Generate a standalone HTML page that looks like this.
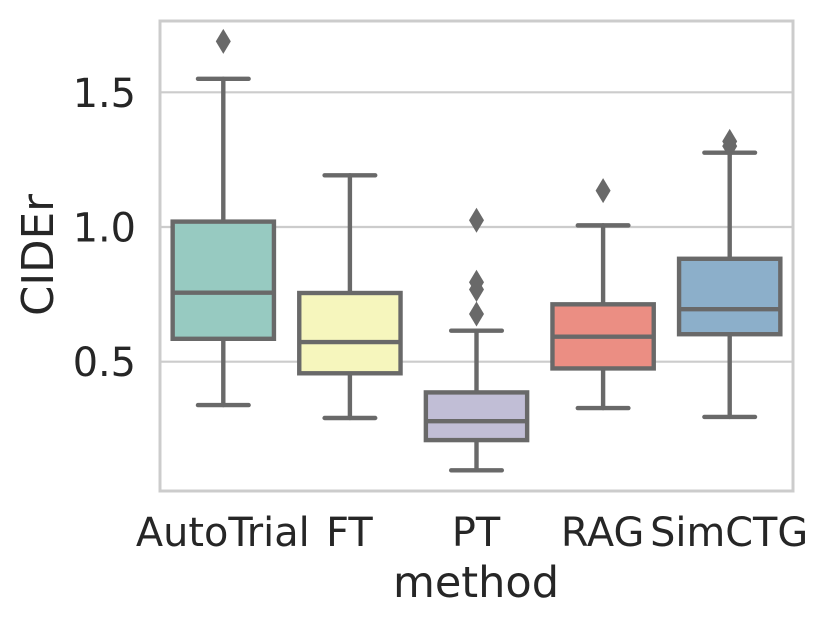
<!DOCTYPE html>
<html lang="en">
<head>
<meta charset="utf-8">
<title>CIDEr by method</title>
<style>
  html, body { margin: 0; padding: 0; background: #fff; }
  svg { display: block; }
  text { font-family: "DejaVu Sans", "Liberation Sans", sans-serif; fill: #262626; }
</style>
</head>
<body>
<svg id="chart" xmlns="http://www.w3.org/2000/svg" width="829" height="627" viewBox="0 0 829 627">
  <rect x="0" y="0" width="829" height="627" fill="#ffffff"/>
  <g id="grid"></g>
  <g id="boxes"></g>
  <rect x="160" y="21" width="633" height="470" fill="none" stroke="#cccccc" stroke-width="3"/>
  <g id="xticks"></g>
  <g id="yticks"></g>
  <text transform="translate(53,255) rotate(-90)" text-anchor="middle" font-size="43.5">CIDEr</text>
  <text x="476" y="597" text-anchor="middle" font-size="43">method</text>
</svg>
<script>
const categories = ['AutoTrial', 'FT', 'PT', 'RAG', 'SimCTG'];
const q1 = [0.585, 0.457, 0.209, 0.475, 0.602];
const medians = [0.756, 0.573, 0.279, 0.593, 0.695];
const q3 = [1.020, 0.755, 0.386, 0.713, 0.882];
const whiskerLow = [0.339, 0.291, 0.097, 0.328, 0.295];
const whiskerHigh = [1.550, 1.192, 0.615, 1.006, 1.276];
const fliers = [[1.689], [], [1.025, 0.795, 0.768, 0.677], [1.135], [1.318, 1.300]];
const fills = ['#97cac1', '#f6f6bd', '#c1bed6', '#eb8e83', '#8cafca'];
const yTickValues = [0.5, 1.0, 1.5];
const yTickLabels = ['0.5', '1.0', '1.5'];

const NS = 'http://www.w3.org/2000/svg';
const plotLeft = 160, plotRight = 793;
const lineColor = '#696969';
const band = (plotRight - plotLeft) / categories.length;

function xScale(i) { return plotLeft + band * (i + 0.5); }
function yScale(v) { return 361.7 - (v - 0.5) * 269.4; }

function make(tag, parent, props) {
  const el = document.createElementNS(NS, tag);
  for (const k in props) el.setAttribute(k, props[k]);
  parent.appendChild(el);
  return el;
}

const gridGroup = document.getElementById('grid');
const yTickGroup = document.getElementById('yticks');
yTickValues.forEach(function (v, i) {
  const g = make('line', gridGroup, { x1: plotLeft, x2: plotRight, y1: yScale(v), y2: yScale(v), stroke: '#cccccc', 'stroke-width': 2.2 });
  
  
  const t = make('text', yTickGroup, { x: 136, y: yScale(v) + 14.5, 'text-anchor': 'end', 'font-size': 39.8 });
  t.textContent = yTickLabels[i];
  
  
});

const xTickGroup = document.getElementById('xticks');
const boxGroup = document.getElementById('boxes');
categories.forEach(function (name, i) {
  const cx = xScale(i);
  const boxW = band * 0.8;
  const capW = band * 0.4;

  const t = make('text', xTickGroup, { x: cx - 0.5, y: 546, 'text-anchor': 'middle', 'font-size': 39.8 });
  t.textContent = name;
  
  

  const group = make('g', boxGroup, {});
  
  

  const lineStyle = { stroke: lineColor, 'stroke-width': 4.4, 'stroke-linecap': 'round' };

  const wl = make('line', group, Object.assign({ x1: cx, x2: cx, y1: yScale(q1[i]), y2: yScale(whiskerLow[i]) }, lineStyle));
  
  

  const wh = make('line', group, Object.assign({ x1: cx, x2: cx, y1: yScale(q3[i]), y2: yScale(whiskerHigh[i]) }, lineStyle));
  
  

  const cl = make('line', group, Object.assign({ x1: cx - capW / 2, x2: cx + capW / 2, y1: yScale(whiskerLow[i]), y2: yScale(whiskerLow[i]) }, lineStyle));
  
  

  const ch = make('line', group, Object.assign({ x1: cx - capW / 2, x2: cx + capW / 2, y1: yScale(whiskerHigh[i]), y2: yScale(whiskerHigh[i]) }, lineStyle));
  
  

  const box = make('rect', group, { x: cx - boxW / 2, y: yScale(q3[i]), width: boxW, height: yScale(q1[i]) - yScale(q3[i]), fill: fills[i], stroke: lineColor, 'stroke-width': 4.4 });
  
  

  const med = make('line', group, { x1: cx - boxW / 2, x2: cx + boxW / 2, y1: yScale(medians[i]), y2: yScale(medians[i]), stroke: lineColor, 'stroke-width': 4.4 });
  
  

  fliers[i].forEach(function (v) {
    const y = yScale(v);
    const pts = [cx, y - 12.5, cx + 7.5, y, cx, y + 12.5, cx - 7.5, y].join(' ');
    const d = make('polygon', group, { points: pts, fill: lineColor });
    
    
  });
});
</script>
</body>
</html>
